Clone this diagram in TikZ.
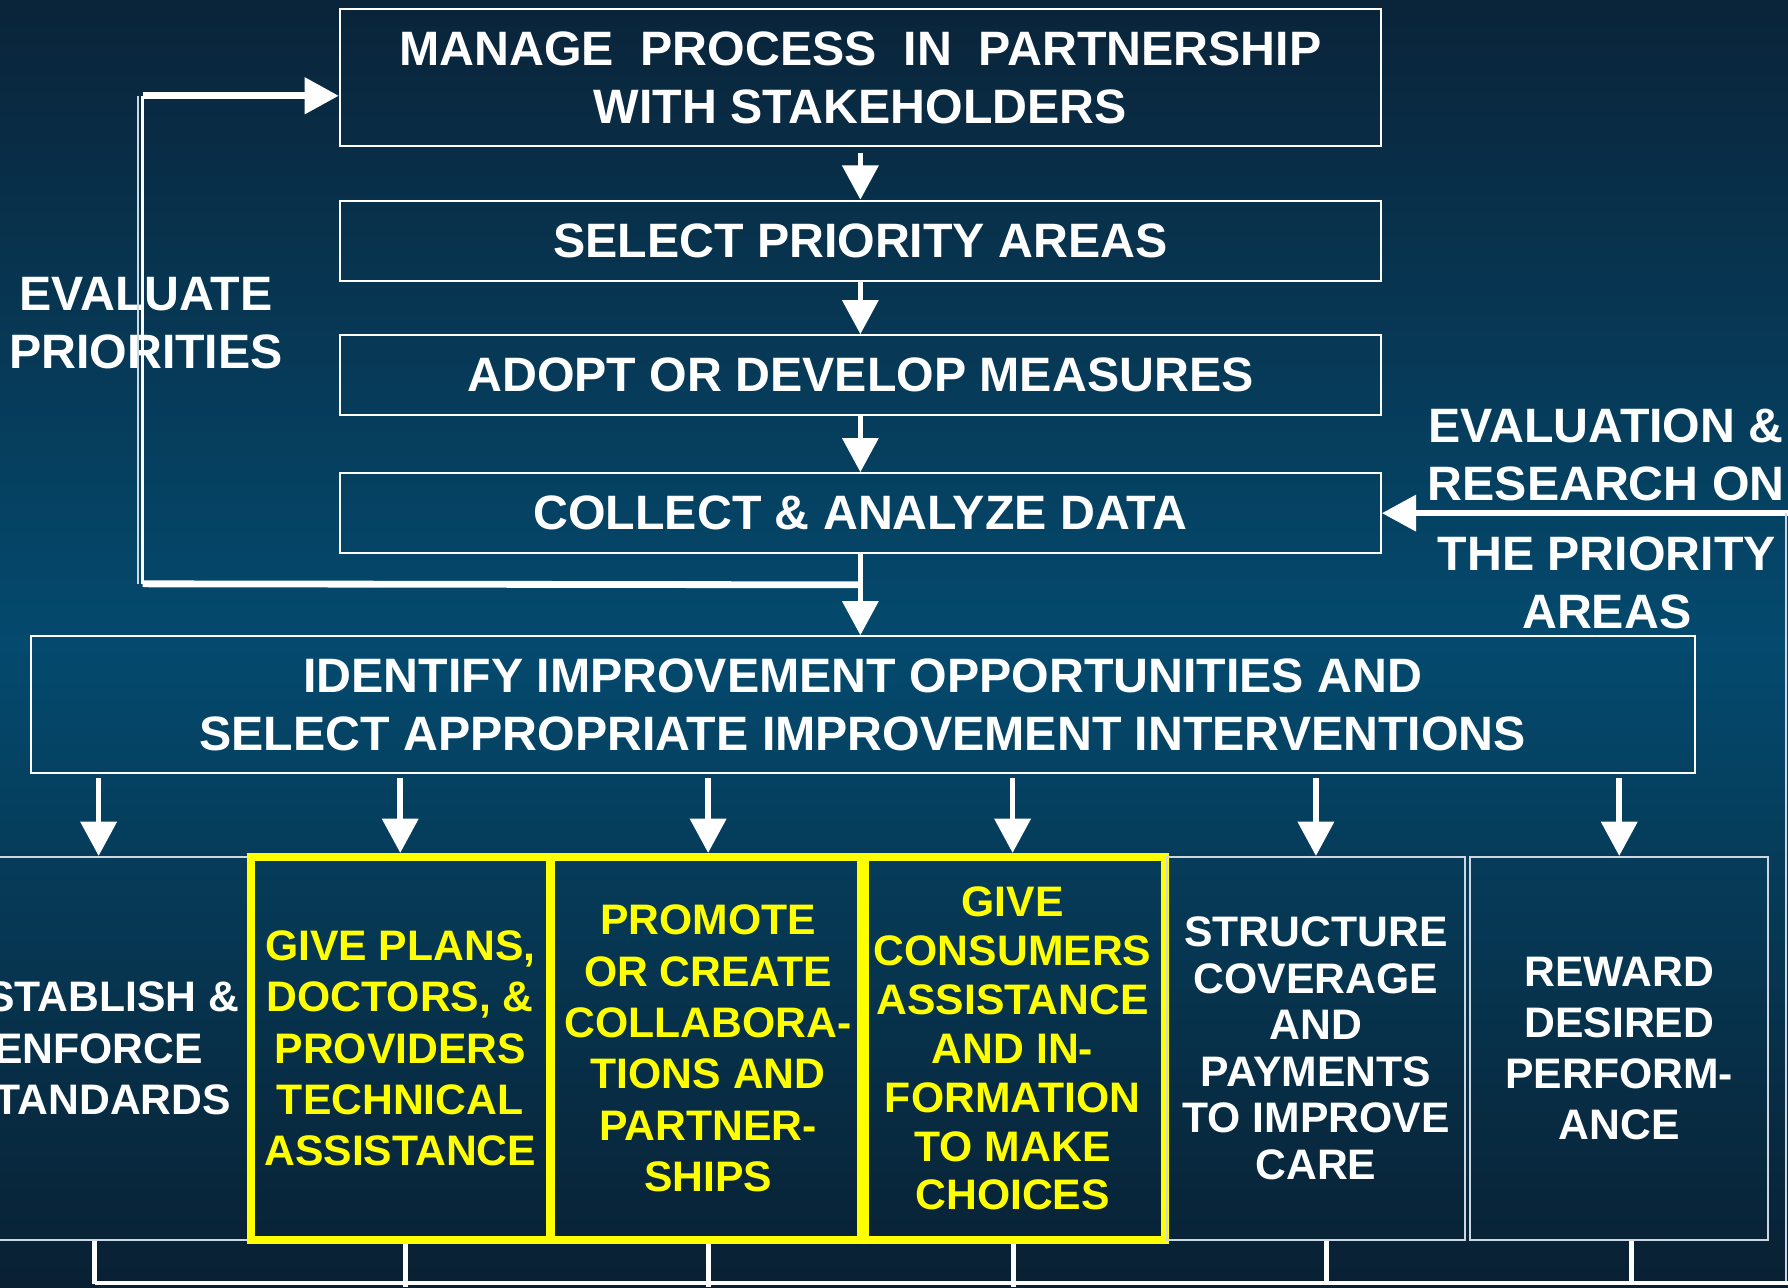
\documentclass[tikz,border=0pt]{standalone}
\usepackage{fontspec}
\setmainfont{Liberation Sans}
\usepackage{tikz}
\usetikzlibrary{arrows.meta,positioning,calc}
\definecolor{bgtop}{RGB}{10,36,57}
\definecolor{bgmid}{RGB}{4,74,110}
\definecolor{bgbot}{RGB}{9,32,50}
\definecolor{qiyellow}{RGB}{255,255,0}
\definecolor{qigray}{RGB}{205,215,225}
\newcommand{\stepfont}{\fontsize{12.05}{14.5}\selectfont\bfseries}
\newcommand{\actfont}{\fontsize{10.65}{12.8}\selectfont\bfseries}
\tikzstyle{arrow} = [line width=1.4pt,-{Triangle[width=3.1mm,length=3mm]},color=white]
\tikzstyle{stepbox} = [rectangle, minimum width=9.13cm, minimum height=0.7cm, align=center, draw=white, line width=0.5pt, text=white, font=\stepfont]
\tikzstyle{actbox} = [rectangle, minimum width=2.61cm, minimum height=3.36cm, align=center, draw=qigray, line width=0.5pt, text=white, font=\actfont]
\tikzstyle{hlbox} = [actbox, minimum width=2.58cm, draw=qiyellow, line width=2pt, text=qiyellow]
\tikzstyle{sidetext} = [align=center, text=white, font=\stepfont]

\begin{document}
\begin{tikzpicture}
\shade[top color=bgtop, bottom color=bgbot, middle color=bgmid] (0,0) rectangle (15.68,-11.295);
\useasboundingbox (0,0) rectangle (15.68,-11.295);

\node[stepbox, minimum height=1.2cm] (manage) at (7.545,-0.68) {MANAGE\ \ PROCESS\ \ IN\ \ PARTNERSHIP\\WITH STAKEHOLDERS};
\node[stepbox] (select) at (7.545,-2.11) {SELECT PRIORITY AREAS};
\node[stepbox] (adopt) at (7.545,-3.29) {ADOPT OR DEVELOP MEASURES};
\node[stepbox] (collect) at (7.545,-4.50) {COLLECT \& ANALYZE DATA};
\node[stepbox, minimum width=14.59cm, minimum height=1.2cm] (identify) at (7.565,-6.18) {IDENTIFY IMPROVEMENT OPPORTUNITIES AND\\SELECT APPROPRIATE IMPROVEMENT INTERVENTIONS};

\node[actbox] (b1) at (0.865,-9.195) {ESTABLISH \&\\ENFORCE\\STANDARDS};
\node[hlbox] (b2) at (3.51,-9.195) {GIVE PLANS,\\DOCTORS, \&\\PROVIDERS\\TECHNICAL\\ASSISTANCE};
\node[hlbox] (b3) at (6.21,-9.195) {PROMOTE\\OR CREATE\\COLLABORA-\\TIONS AND\\PARTNER-\\SHIPS};
\node[hlbox, font={\fontsize{10.65}{12.2}\selectfont\bfseries}] (b4) at (8.88,-9.195) {GIVE\\CONSUMERS\\ASSISTANCE\\AND IN-\\FORMATION\\TO MAKE\\CHOICES};
\node[actbox, font={\fontsize{10.65}{11.6}\selectfont\bfseries}] (b5) at (11.54,-9.195) {STRUCTURE\\COVERAGE\\AND\\PAYMENTS\\TO IMPROVE\\CARE};
\node[actbox] (b6) at (14.20,-9.195) {REWARD\\DESIRED\\PERFORM-\\ANCE};

\node[sidetext] (evalprio) at (1.28,-2.83) {EVALUATE\\PRIORITIES};
\node[sidetext] (evalres) at (14.085,-3.99) {EVALUATION \&\\RESEARCH ON};
\node[sidetext] (evalarea) at (14.09,-5.11) {THE PRIORITY\\AREAS};

\coordinate (loopr) at ($(collect.south)+(0,-0.27)$);
\coordinate (loopl) at (1.25,-5.12);
\coordinate (looptop) at (1.25,-0.84);
\coordinate (evalin) at (15.68,-4.50);
\coordinate (busl) at (0.83,-11.25);
\coordinate (busr) at (15.66,-11.25);

\draw[arrow] ($(manage.south)+(0,-0.05)$) -- (select.north);
\draw[arrow] (select) -- (adopt);
\draw[arrow] (adopt) -- (collect);
\draw[arrow] (collect.south) -- (collect.south |- identify.north);
\draw[white, line width=1.7pt] (loopr) -- (loopl);
\draw[white, line width=0.9pt] (loopl) -- (looptop);
\draw[qigray, line width=0.5pt] ($(loopl)+(-0.04,0)$) -- ($(looptop)+(-0.04,0)$);
\draw[arrow, line width=1.7pt] (looptop) -- (looptop -| manage.west);

\draw[arrow, line width=1.55pt] (evalin) -- (collect.east);
\draw[qigray, line width=0.6pt] (evalin -| busr) -- (busr);
\draw[white, line width=1pt] (busl) -- (busr -| evalin);

\foreach \b in {b1,b2,b3,b4,b5,b6}
  \draw[arrow] ($(\b.north |- identify.south)+(0,-0.03)$) -- (\b.north);
\foreach \b/\dx in {b1/-0.035,b2/0.045,b3/0,b4/0.005,b5/0.095,b6/0.11}
  \draw[white, line width=1.3pt] ($(\b.south)+(\dx,0)$) -- ($(\b.south)+(\dx,-0.375)$);
\end{tikzpicture}
\end{document}
